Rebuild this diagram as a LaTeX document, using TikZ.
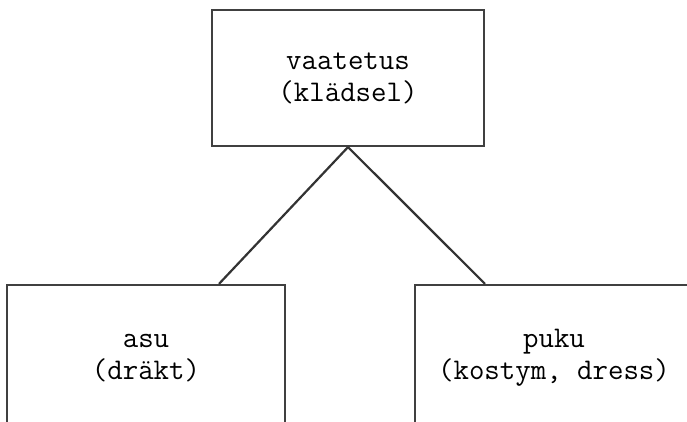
\documentclass[tikz,border=0pt]{standalone}
\usepackage{fontspec}
\usetikzlibrary{positioning,calc}

\begin{document}
\begin{tikzpicture}[x=1pt,y=1pt]
    \tikzstyle{every node}=[rectangle,inner sep=0,align=center,font=\fontsize{30}{32}\selectfont\ttfamily]
    \tikzstyle{box}=[draw=black!75,line width=2.2,minimum width=278,minimum height=146]
    \tikzstyle{link}=[draw=black!80,line width=2.2]
    \useasboundingbox (0,0) rectangle (687,-422);
    \clip (0,0) rectangle (687,-422);
    {
        \node[box,minimum width=272,minimum height=136] (vaate) at (348,-78) {vaatetus\\(klädsel)};
        \node[box] (asu) at (146,-358) {asu\\(dräkt)};
        \node[box] (puku) at (554,-358) {puku\\(kostym, dress)};

        \path[link]
            (vaate.south) -- ([xshift=73]asu.north)
            (vaate.south) -- ([xshift=-69]puku.north);
    }
\end{tikzpicture}
\end{document}
